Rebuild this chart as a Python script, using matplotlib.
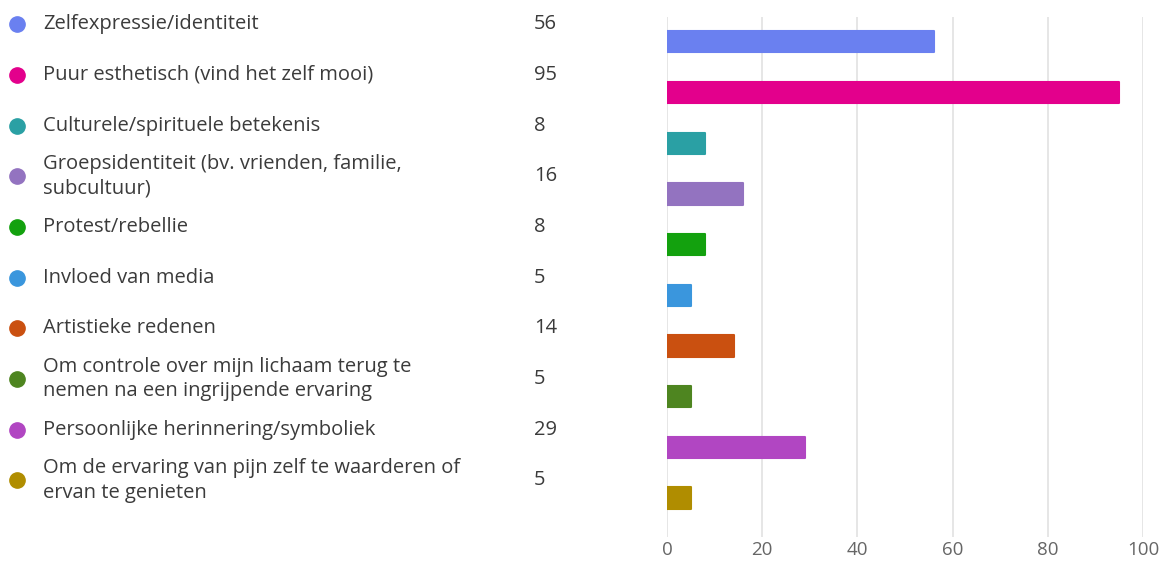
import matplotlib.pyplot as plt
import matplotlib.transforms as mtransforms

plt.rcParams['font.family'] = ['Open Sans', 'DejaVu Sans']

labels = [
    "Zelfexpressie/identiteit",
    "Puur esthetisch (vind het zelf mooi)",
    "Culturele/spirituele betekenis",
    "Groepsidentiteit (bv. vrienden, familie,\nsubcultuur)",
    "Protest/rebellie",
    "Invloed van media",
    "Artistieke redenen",
    "Om controle over mijn lichaam terug te\nnemen na een ingrijpende ervaring",
    "Persoonlijke herinnering/symboliek",
    "Om de ervaring van pijn zelf te waarderen of\nervan te genieten",
]
counts = [56, 95, 8, 16, 8, 5, 14, 5, 29, 5]
colors = ["#6A80F0", "#E3008C", "#2AA0A4", "#9373C0", "#13A10E",
          "#3A96DD", "#CA5010", "#4E8520", "#B146C2", "#B08D00"]
xticks = [0, 20, 40, 60, 80, 100]

fig = plt.figure(figsize=(11.72, 5.62), dpi=100)
ax = fig.add_axes([0.5691, 0.0445, 0.4062, 0.9253])

ypos = list(range(len(counts)))
ax.barh(ypos, counts, height=0.42, color=colors, edgecolor=colors,
        linewidth=1.5, joinstyle='round', zorder=3)

ax.set_xlim(0, 100)
ax.set_ylim(9.77, -0.49)
ax.set_xticks(xticks)
ax.set_yticks([])
ax.grid(axis='x', color='#e1e1e1', linewidth=1.2, zorder=0)
for s in ax.spines.values():
    s.set_visible(False)
ax.tick_params(axis='x', length=0, labelsize=13.5, labelcolor='#666666', pad=3)

# legend-like labels on the left, slightly above each bar
trans = mtransforms.blended_transform_factory(fig.transFigure, ax.transData)
trans = trans + mtransforms.ScaledTranslation(0, 0.175, fig.dpi_scale_trans)
for i, (lab, n, c) in enumerate(zip(labels, counts, colors)):
    ax.plot([17 / 1172], [i], marker='o', markersize=11, color=c,
            transform=trans, clip_on=False, zorder=4)
    ax.text(43 / 1172, i, lab, transform=trans, va='center', ha='left',
            fontsize=14.5, color='#3b3b3b', linespacing=1.3)
    ax.text(534 / 1172, i, str(n), transform=trans, va='center', ha='left',
            fontsize=14.5, color='#3b3b3b')

fig.savefig("out.png", dpi=100, facecolor='white')
